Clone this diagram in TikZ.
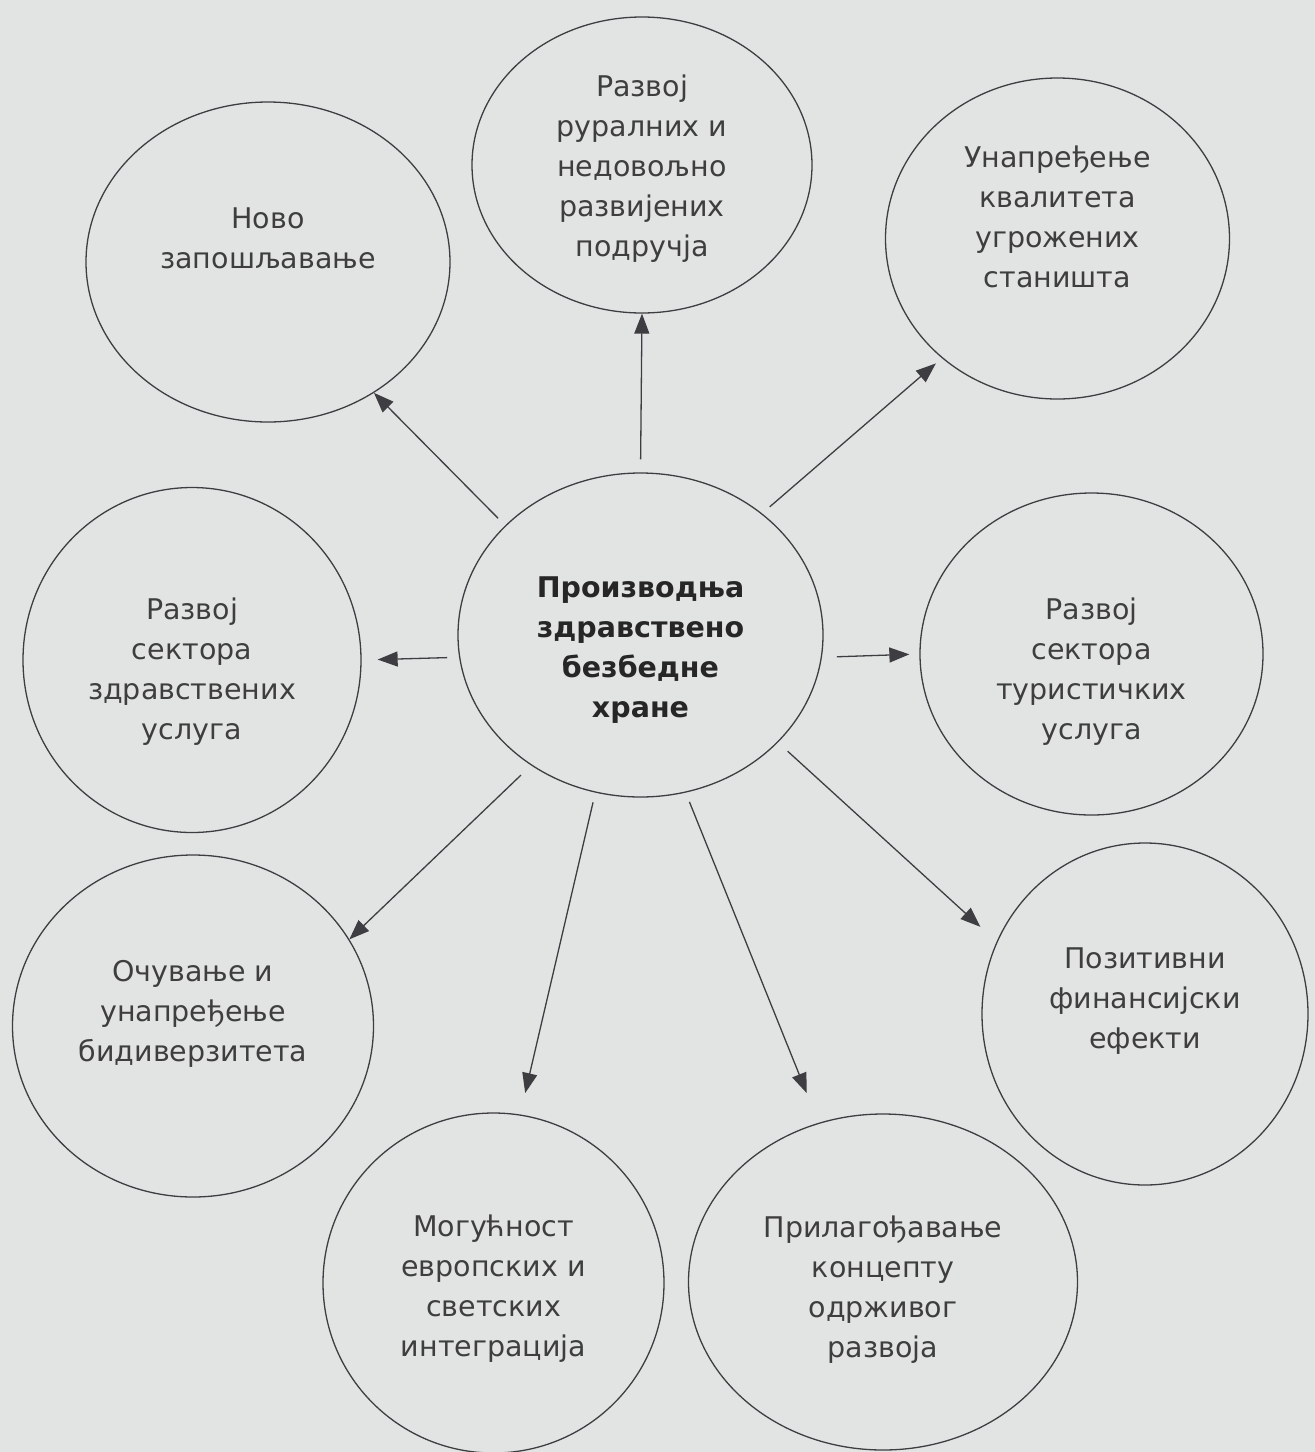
\documentclass[tikz,border=0pt]{standalone}
\usepackage{fontspec}
\setmainfont{DejaVu Sans}
\usetikzlibrary{shapes.geometric, arrows.meta}

\definecolor{paper}{RGB}{226,228,227}
\definecolor{ink}{RGB}{62,62,62}
\definecolor{lineink}{RGB}{62,62,66}

\begin{document}
\begin{tikzpicture}[
    x=1pt, y=-1pt,
    bubble/.style={draw=lineink, line width=1.3pt, ellipse, inner sep=0pt},
    txt/.style={align=center, text=ink, font=\fontsize{28.5}{40}\selectfont},
    core/.style={align=center, text=black!85, font=\fontsize{28.5}{40}\selectfont\bfseries},
    arr/.style={draw=lineink, line width=1.3pt, -{Triangle[length=20pt, width=15pt]}, shorten <=10pt}
]

% Page
\useasboundingbox (0,0) rectangle (1315,1452);
\fill[paper] (0,0) rectangle (1315,1452);

% Centre
\node[bubble, minimum width=365pt, minimum height=324pt,
      label={[core, yshift=-15pt]center:Производња\\здравствено\\безбедне\\хране}] (food) at (640.5,635) {};

% Effects
\node[bubble, minimum width=364pt, minimum height=320pt,
      label={[txt, yshift=24pt]center:Ново\\запошљавање}] (jobs) at (268,262) {};
\node[bubble, minimum width=340pt, minimum height=296pt,
      label={[txt, yshift=-4pt]center:Развој\\руралних и\\недовољно\\развијених\\подручја}] (rural) at (642,165) {};
\node[bubble, minimum width=344pt, minimum height=321pt,
      label={[txt, yshift=22pt]center:Унапређење\\квалитета\\угрожених\\станишта}] (habitat) at (1057.5,238.5) {};
\node[bubble, minimum width=338pt, minimum height=345pt,
      label={[txt, yshift=-12pt]center:Развој\\сектора\\здравствених\\услуга}] (health) at (192,660) {};
\node[bubble, minimum width=343pt, minimum height=322pt,
      label={[txt, yshift=-18pt]center:Развој\\сектора\\туристичких\\услуга}] (tourism) at (1091.5,654) {};
\node[bubble, minimum width=361pt, minimum height=342pt,
      label={[txt, yshift=12pt]center:Очување и\\унапређење\\бидиверзитета}] (biodiv) at (193,1026) {};
\node[bubble, minimum width=326pt, minimum height=342pt,
      label={[txt, yshift=13pt]center:Позитивни\\финансијски\\ефекти}] (finance) at (1145,1014) {};
\node[bubble, minimum width=341pt, minimum height=340pt,
      label={[txt, yshift=-6pt]center:Могућност\\европских и\\светских\\интеграција}] (europe) at (493.5,1283) {};
\node[bubble, minimum width=389pt, minimum height=336pt,
      label={[txt, yshift=-8pt]center:Прилагођавање\\концепту\\одрживог\\развоја}] (sustain) at (883,1282) {};

% Arrows
\draw[arr] (food.141) -- (jobs.-51);
\draw[arr, shorten <=13pt] (food.north) -- (rural.south);
\draw[arr, shorten >=8pt] (food.45) -- (habitat.226);
\draw[arr, shorten <=12pt, shorten >=16pt] (food.187) -- (health.east);
\draw[arr, shorten <=15pt, shorten >=10pt] (food.-7) -- (tourism.west);
\draw[arr, shorten <=14pt] (food.230) -- (biodiv.29);
\draw[arr, shorten <=13pt, shorten >=22pt] (food.-38) -- (finance.154);
\draw[arr, shorten >=22pt] (food.254) -- (europe.81);
\draw[arr, shorten >=32pt] (food.286) -- (sustain.112);

\end{tikzpicture}
\end{document}
